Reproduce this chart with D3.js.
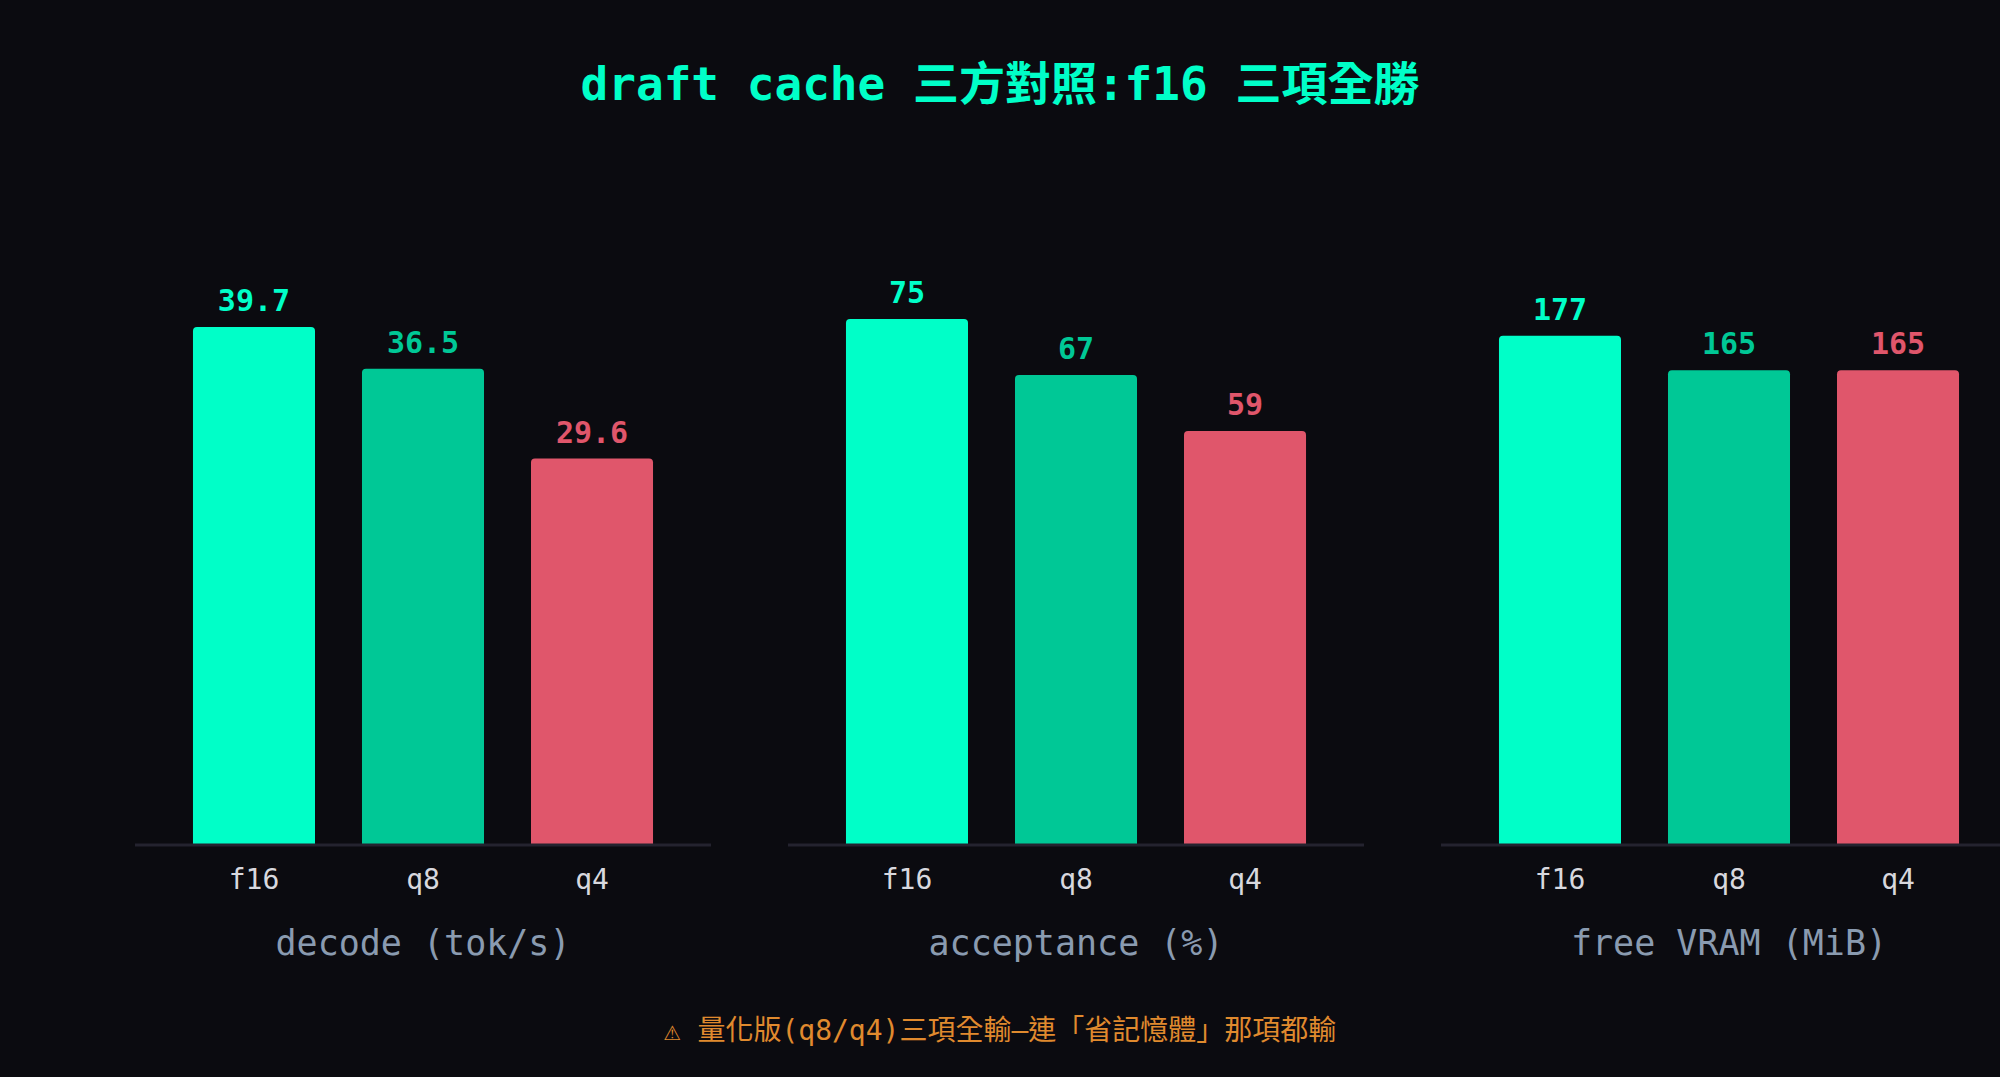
<!DOCTYPE html>
<html><head><meta charset="utf-8">
<script src="https://cdn.jsdelivr.net/npm/d3@7"></script>
<style>
body{margin:0;background:#0b0b10;overflow:hidden}
text{font-family:"DejaVu Sans Mono","Noto Sans CJK TC",monospace}
</style></head>
<body><svg id="chart"></svg>
<script>
const categories = ["f16", "q8", "q4"];
const metrics = ["decode (tok/s)", "acceptance (%)", "free VRAM (MiB)"];
const decodeValues = [39.7, 36.5, 29.6];
const acceptanceValues = [75, 67, 59];
const vramValues = [177, 165, 165];
const labels = [["39.7", "36.5", "29.6"], ["75", "67", "59"], ["177", "165", "165"]];
const domainMax = [43, 80, 195];
const series = [decodeValues, acceptanceValues, vramValues];

const colors = ["#00ffc8", "#00c896", "#e0566b"];
const W = 2000, H = 1077;
const svg = d3.select("#chart").attr("width", W).attr("height", H);
svg.append("rect").attr("width", W).attr("height", H).attr("fill", "#0b0b10");

svg.append("text").attr("x", 1000).attr("y", 87).attr("text-anchor", "middle")
  .attr("dominant-baseline", "middle").attr("fill", "#00ffc8")
  .style("font-size", "46px").style("font-weight", "bold")
  .text("draft cache 三方對照:f16 三項全勝");

const baseY = 844, plotH = 560, panelW = 576, panelGap = 77, left0 = 135;

metrics.forEach((m, i) => {
  const x0 = left0 + i * (panelW + panelGap);
  const x = d3.scaleBand().domain(categories).range([x0, x0 + panelW])
    .paddingInner(0.278).paddingOuter(0.343);
  const y = d3.scaleLinear().domain([0, domainMax[i]]).range([baseY, baseY - plotH]);
  const g = svg.append("g");

  g.selectAll("path.bar").data(series[i]).join("path")
    .attr("fill", (d, j) => colors[j])
    .attr("d", (d, j) => {
      const bx = x(categories[j]), bw = x.bandwidth(), top = y(d), r = 4;
      return `M${bx},${baseY}V${top + r}Q${bx},${top} ${bx + r},${top}H${bx + bw - r}Q${bx + bw},${top} ${bx + bw},${top + r}V${baseY}Z`;
    });

  g.append("line").attr("x1", x0).attr("x2", x0 + panelW)
    .attr("y1", baseY + 1).attr("y2", baseY + 1)
    .attr("stroke", "#24232f").attr("stroke-width", 3);

  g.selectAll("text.val").data(series[i]).join("text")
    .attr("x", (d, j) => x(categories[j]) + x.bandwidth() / 2)
    .attr("y", d => y(d) - 16).attr("text-anchor", "middle")
    .attr("fill", (d, j) => colors[j])
    .style("font-size", "30px").style("font-weight", "bold")
    .text((d, j) => labels[i][j]);

  g.selectAll("text.tick").data(categories).join("text")
    .attr("x", c => x(c) + x.bandwidth() / 2).attr("y", 881)
    .attr("text-anchor", "middle").attr("dominant-baseline", "middle")
    .attr("fill", "#d8d8de").style("font-size", "28px").text(c => c);

  g.append("text").attr("x", x0 + panelW / 2).attr("y", 945)
    .attr("text-anchor", "middle").attr("dominant-baseline", "middle")
    .attr("fill", "#8a9bb0").style("font-size", "35px").text(m);
});

svg.append("text").attr("x", 1000).attr("y", 1032).attr("text-anchor", "middle")
  .attr("dominant-baseline", "middle").attr("fill", "#e08a2e")
  .style("font-size", "28px").text("⚠ 量化版(q8/q4)三項全輸—連「省記憶體」那項都輸");
</script></body></html>
